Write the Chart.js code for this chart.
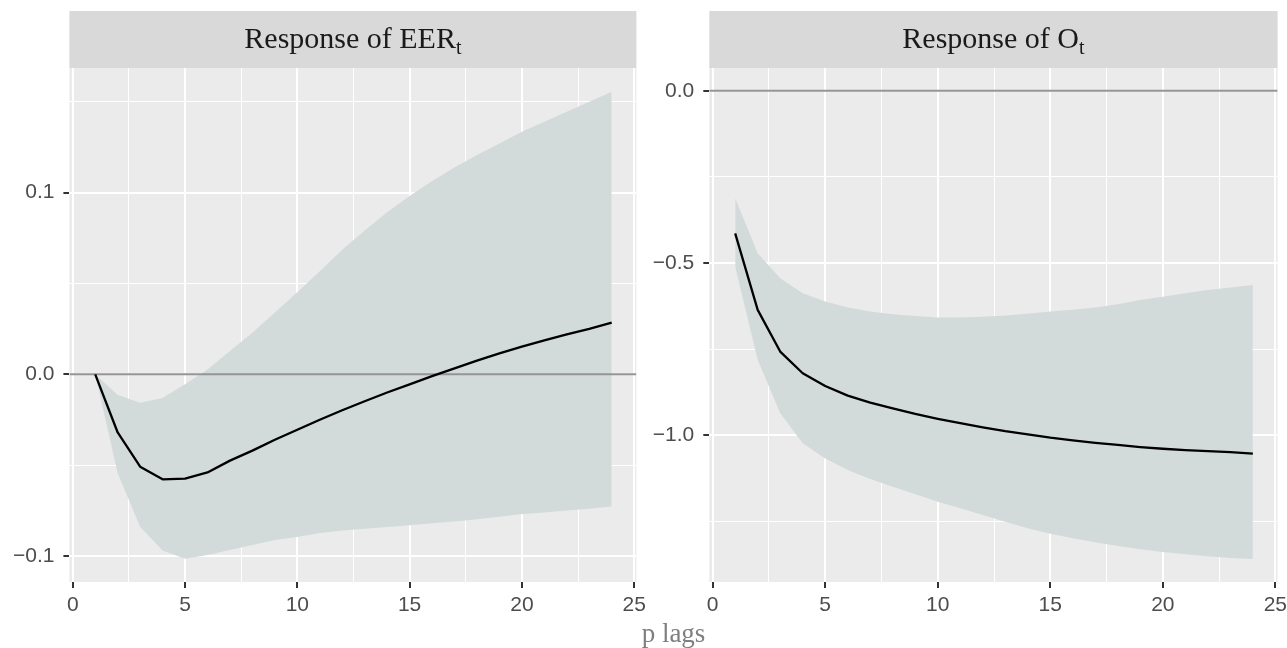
<!DOCTYPE html>
<html>
<head>
<meta charset="utf-8">
<script src="https://cdn.jsdelivr.net/npm/chart.js@4.4.1/dist/chart.umd.min.js"></script>
<style>
html,body{margin:0;padding:0;background:#ffffff;overflow:hidden;width:1287px;height:648px;}
canvas{position:absolute;top:0;}
#c1{left:0;}
#c2{left:640px;}
</style>
</head>
<body>
<canvas id="c1" width="660" height="648"></canvas>
<canvas id="c2" width="647" height="648"></canvas>
<script>
// ---------- data ----------
const lags = [1,2,3,4,5,6,7,8,9,10,11,12,13,14,15,16,17,18,19,20,21,22,23,24];

const eerIrf   = [0,-0.032,-0.0508,-0.0578,-0.0574,-0.054,-0.0475,-0.042,-0.036,-0.0305,-0.025,-0.0198,-0.0148,-0.010,-0.0055,-0.001,0.0033,0.0075,0.0115,0.0152,0.0187,0.022,0.025,0.0284];
const eerUpper = [0,-0.0114,-0.0156,-0.013,-0.0055,0.0027,0.0128,0.0229,0.034,0.0452,0.0568,0.0685,0.0792,0.0892,0.0981,0.1064,0.1139,0.1207,0.1271,0.1335,0.139,0.1445,0.15,0.1555];
const eerLower = [0,-0.0545,-0.0839,-0.097,-0.1015,-0.0995,-0.0967,-0.094,-0.0912,-0.0895,-0.0873,-0.086,-0.085,-0.084,-0.083,-0.082,-0.081,-0.0798,-0.0784,-0.0769,-0.076,-0.075,-0.074,-0.0728];

const oIrf   = [-0.414,-0.636,-0.757,-0.820,-0.857,-0.885,-0.905,-0.922,-0.938,-0.952,-0.965,-0.977,-0.988,-0.997,-1.007,-1.015,-1.022,-1.028,-1.034,-1.039,-1.043,-1.046,-1.049,-1.053];
const oUpper = [-0.312,-0.472,-0.544,-0.588,-0.612,-0.629,-0.641,-0.649,-0.654,-0.658,-0.658,-0.656,-0.652,-0.647,-0.641,-0.636,-0.629,-0.620,-0.607,-0.598,-0.588,-0.578,-0.571,-0.564];
const oLower = [-0.511,-0.781,-0.936,-1.023,-1.067,-1.101,-1.127,-1.149,-1.171,-1.193,-1.212,-1.231,-1.251,-1.270,-1.286,-1.299,-1.310,-1.321,-1.331,-1.339,-1.345,-1.351,-1.356,-1.359];

const xMajorTicks = [0,5,10,15,20,25];
const xMinorTicks = [2.5,7.5,12.5,17.5,22.5];
const xTickLabels = ["0","5","10","15","20","25"];

const eerMajorTicks = [-0.1,0,0.1];
const eerMinorTicks = [-0.05,0.05,0.15];
const eerTickLabels = ["\u22120.1","0.0","0.1"];

const oMajorTicks = [-1.0,-0.5,0];
const oMinorTicks = [-1.25,-0.75,-0.25];
const oTickLabels = ["\u22121.0","\u22120.5","0.0"];

const panelTitles = ["Response of EER","Response of O"];
const titleSub = "t";
const xAxisTitle = "p lags";

// ---------- helpers ----------
const X_MIN = -0.15, X_MAX = 25.1;

function isIn(arr, v){ return arr.some(a => Math.abs(a - v) < 1e-9); }

function makeScales(yMin, yMax, yMajor, yMinor, yLabels, yWidth){
  const allY = yMajor.concat(yMinor).sort((a,b)=>a-b);
  const allX = xMajorTicks.concat(xMinorTicks).sort((a,b)=>a-b);
  return {
    x: {
      type: 'linear', min: X_MIN, max: X_MAX, bounds: 'data',
      afterBuildTicks: s => { s.ticks = allX.map(v => ({value: v})); },
      afterFit: s => { s.height = 66; s.paddingLeft = 0; s.paddingRight = 0; },
      border: {display: false},
      grid: {
        color: '#ffffff',
        lineWidth: c => isIn(xMajorTicks, c.tick.value) ? 2 : 1,
        tickColor: c => isIn(xMajorTicks, c.tick.value) ? '#333333' : 'rgba(0,0,0,0)',
        tickLength: 6, tickWidth: 2, drawTicks: true
      },
      ticks: {
        autoSkip: false, maxRotation: 0, minRotation: 0, padding: 5,
        color: '#4d4d4d', font: {family: '"Liberation Sans", Arial, sans-serif', size: 21},
        callback: v => { const i = xMajorTicks.findIndex(a => Math.abs(a - v) < 1e-9); return i >= 0 ? xTickLabels[i] : ''; }
      }
    },
    y: {
      type: 'linear', min: yMin, max: yMax, bounds: 'data',
      afterBuildTicks: s => { s.ticks = allY.map(v => ({value: v})); },
      afterFit: s => { s.width = yWidth; s.paddingTop = 0; s.paddingBottom = 0; },
      border: {display: false},
      grid: {
        color: '#ffffff',
        lineWidth: c => isIn(yMajor, c.tick.value) ? 2 : 1,
        tickColor: c => isIn(yMajor, c.tick.value) ? '#333333' : 'rgba(0,0,0,0)',
        tickLength: 6, tickWidth: 2, drawTicks: true
      },
      ticks: {
        autoSkip: false, padding: 9,
        color: '#4d4d4d', font: {family: '"Liberation Sans", Arial, sans-serif', size: 21},
        callback: v => { const i = yMajor.findIndex(a => Math.abs(a - v) < 1e-9); return i >= 0 ? yLabels[i] : ''; }
      }
    }
  };
}

function makeDatasets(irf, upper, lower){
  const pts = arr => lags.map((l, i) => ({x: l, y: arr[i]}));
  return [
    {data: pts(upper), fill: '+1', backgroundColor: '#d3dada', borderColor: 'rgba(0,0,0,0)', borderWidth: 0, pointRadius: 0, order: 3},
    {data: pts(lower), fill: false, borderColor: 'rgba(0,0,0,0)', borderWidth: 0, pointRadius: 0, order: 3},
    {data: [{x: X_MIN, y: 0}, {x: X_MAX, y: 0}], fill: false, borderColor: '#959595', borderWidth: 2, pointRadius: 0, order: 2},
    {data: pts(irf), fill: false, borderColor: '#000000', borderWidth: 2.3, pointRadius: 0, order: 1, borderJoinStyle: 'round'}
  ];
}

function panelPlugin(title, withAxisTitle){
  return {
    id: 'panel',
    beforeDraw(chart){
      const a = chart.chartArea, ctx = chart.ctx;
      ctx.save();
      ctx.fillStyle = '#ebebeb';
      ctx.fillRect(a.left, a.top, a.right - a.left, a.bottom - a.top);
      ctx.restore();
    },
    afterDraw(chart){
      const a = chart.chartArea, ctx = chart.ctx;
      ctx.save();
      ctx.fillStyle = '#d9d9d9';
      ctx.fillRect(a.left, 11, a.right - a.left, a.top - 11);
      ctx.fillStyle = '#1a1a1a';
      ctx.textBaseline = 'alphabetic';
      ctx.textAlign = 'left';
      const mainFont = '30px "Liberation Serif", "Times New Roman", serif';
      const subFont = '20px "Liberation Serif", "Times New Roman", serif';
      ctx.font = mainFont; const w1 = ctx.measureText(title).width;
      ctx.font = subFont; const w2 = ctx.measureText(titleSub).width;
      const x0 = (a.left + a.right) / 2 - (w1 + w2) / 2;
      ctx.font = mainFont; ctx.fillText(title, x0, 48);
      ctx.font = subFont; ctx.fillText(titleSub, x0 + w1, 54);
      if (withAxisTitle){
        ctx.font = '27px "Liberation Serif", "Times New Roman", serif';
        ctx.fillStyle = '#7f7f7f';
        ctx.textAlign = 'center';
        ctx.fillText(xAxisTitle, 673.5 - 640, 642);
      }
      ctx.restore();
    }
  };
}

function makeChart(id, title, irf, upper, lower, yMin, yMax, yMajor, yMinor, yLabels, yWidth, padRight, withAxisTitle){
  return new Chart(document.getElementById(id), {
    type: 'line',
    data: {datasets: makeDatasets(irf, upper, lower)},
    options: {
      responsive: false, animation: false, devicePixelRatio: 1,
      layout: {padding: {top: 68, left: 0, right: padRight, bottom: 0}},
      plugins: {legend: {display: false}, tooltip: {enabled: false}, title: {display: false}},
      elements: {line: {tension: 0}},
      scales: makeScales(yMin, yMax, yMajor, yMinor, yLabels, yWidth)
    },
    plugins: [panelPlugin(title, withAxisTitle)]
  });
}

makeChart('c1', panelTitles[0], eerIrf, eerUpper, eerLower, -0.1143, 0.1686, eerMajorTicks, eerMinorTicks, eerTickLabels, 69.4, 660 - 636.4, false);
makeChart('c2', panelTitles[1], oIrf, oUpper, oLower, -1.4257, 0.0659, oMajorTicks, oMinorTicks, oTickLabels, 69.3, 647 - 637.6, true);
</script>
</body>
</html>
